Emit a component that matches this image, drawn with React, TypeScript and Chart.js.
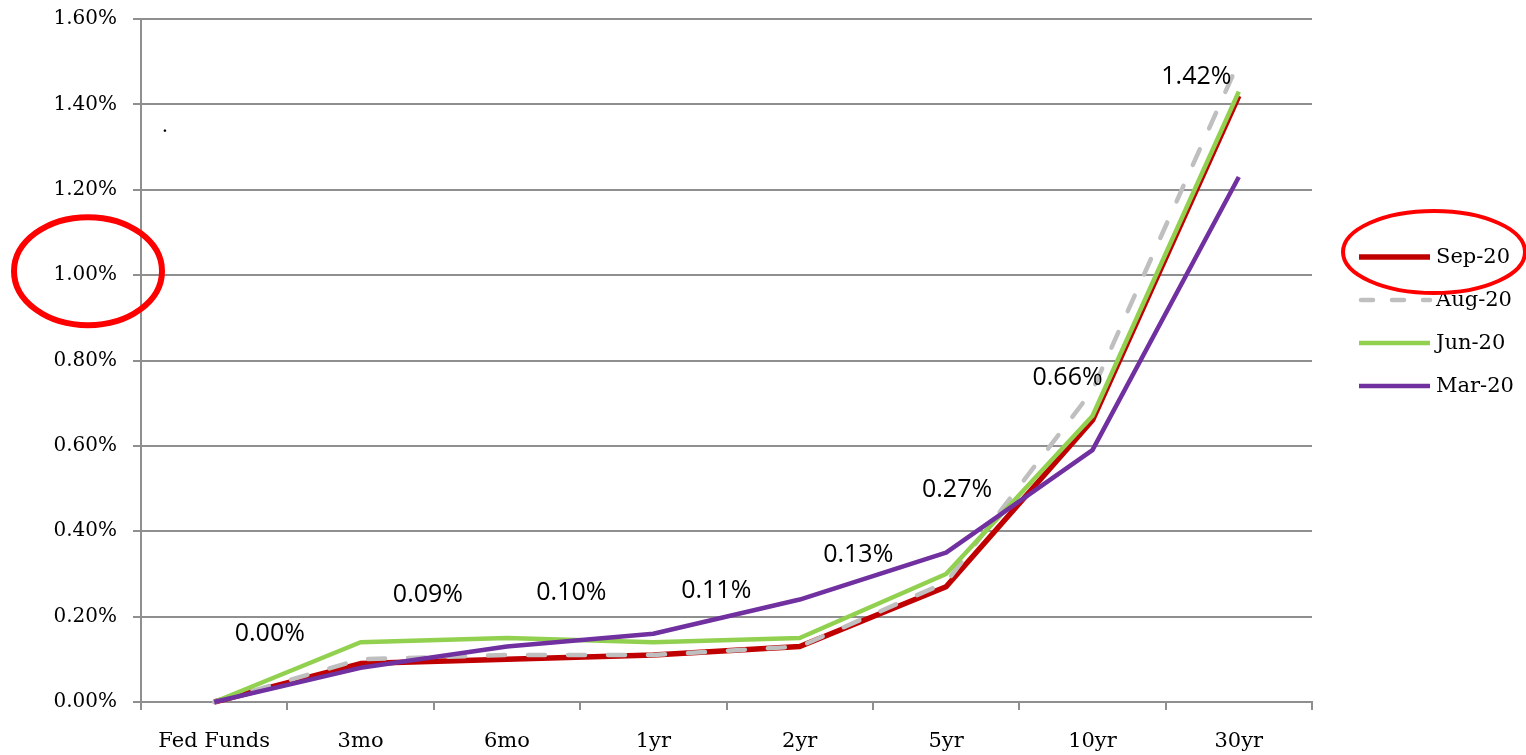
import React, { useEffect, useRef } from "react";
import { Chart, registerables } from "chart.js";

Chart.register(...registerables);

// ---- data ----
const categories = ["Fed Funds", "3mo", "6mo", "1yr", "2yr", "5yr", "10yr", "30yr"];
const seriesNames = ["Sep-20", "Aug-20", "Jun-20", "Mar-20"];
const sep20 = [0.0, 0.09, 0.1, 0.11, 0.13, 0.27, 0.66, 1.42];
const aug20 = [0.0, 0.1, 0.11, 0.11, 0.13, 0.28, 0.73, 1.5];
const jun20 = [0.0, 0.14, 0.15, 0.14, 0.15, 0.3, 0.67, 1.43];
const mar20 = [0.0, 0.08, 0.13, 0.16, 0.24, 0.35, 0.59, 1.23];
const yMin = 0;
const yMax = 1.6;
const yStep = 0.2;
// data-label offsets for the Sep-20 labels: [category fraction, percent]
const labelOffsets: [number, number][] = [
  [0.38, 0.16],
  [0.46, 0.16],
  [0.44, 0.155],
  [0.43, 0.15],
  [0.4, 0.215],
  [0.075, 0.228],
  [-0.17, 0.1],
  [-0.29, 0.045],
];

const COLORS = ["#C00000", "#BFBFBF", "#92D050", "#7030A0"];
const GRID = "#8f8f8f";
const SERIF = "'DejaVu Serif', 'Liberation Serif', serif";
const SANS = "'Open Sans', 'Liberation Sans', sans-serif";

const fmt = (v: number) => v.toFixed(2) + "%";

const decorPlugin = {
  id: "decor",
  afterDatasetsDraw(chart: any) {
    const ctx = chart.ctx;
    const xs = chart.scales.x;
    const ys = chart.scales.y;
    ctx.save();
    ctx.font = `25px ${SANS}`;
    ctx.fillStyle = "#000";
    ctx.textAlign = "center";
    ctx.textBaseline = "middle";
    sep20.forEach((v, i) => {
      const [dx, dy] = labelOffsets[i];
      const x = xs.getPixelForValue(i + dx);
      const y = ys.getPixelForValue(v + dy);
      ctx.fillText(fmt(v), x, y);
    });
    ctx.font = `20px ${SERIF}`;
    ctx.fillText(".", chart.chartArea.left + 24, ys.getPixelForValue(1.4) + 22);
    ctx.restore();
  },
  afterDraw(chart: any) {
    const ctx = chart.ctx;
    const ys = chart.scales.y;
    const datasets = chart.data.datasets;
    const lx0 = chart.chartArea.right + 47;
    const lx1 = lx0 + 71;
    const ly0 = 257;
    const lstep = 43;
    ctx.save();
    datasets.forEach((ds: any, i: number) => {
      const y = ly0 + lstep * i;
      ctx.beginPath();
      ctx.strokeStyle = ds.borderColor;
      ctx.lineWidth = ds.borderWidth;
      ctx.lineCap = ds.borderDash ? "round" : "butt";
      ctx.setLineDash(ds.borderDash ? [12, 19] : []);
      ctx.moveTo(lx0 + (ds.borderDash ? 2 : 0), y);
      ctx.lineTo(lx1, y);
      ctx.stroke();
      ctx.setLineDash([]);
      ctx.fillStyle = "#000";
      ctx.font = `21px ${SERIF}`;
      ctx.textAlign = "left";
      ctx.textBaseline = "middle";
      ctx.fillText(ds.label, lx1 + 6, y + 1);
    });
    ctx.strokeStyle = "#FF0000";
    ctx.lineWidth = 6;
    ctx.beginPath();
    ctx.ellipse(88, ys.getPixelForValue(1.0) - 4, 74, 54, 0, 0, Math.PI * 2);
    ctx.stroke();
    ctx.lineWidth = 4;
    ctx.beginPath();
    ctx.ellipse(lx0 + 75, ly0 - 5, 91, 41, 0, 0, Math.PI * 2);
    ctx.stroke();
    ctx.restore();
  },
};

export default function App() {
  const ref = useRef<HTMLCanvasElement | null>(null);
  useEffect(() => {
    if (!ref.current) return;
    const seriesData = [sep20, aug20, jun20, mar20];
    const chart = new Chart(ref.current, {
      type: "line",
      data: {
        labels: categories,
        datasets: seriesData.map((d, i) => ({
          label: seriesNames[i],
          data: d,
          borderColor: COLORS[i],
          backgroundColor: COLORS[i],
          borderWidth: i === 0 ? 5.5 : 4.5,
          borderDash: i === 1 ? [17, 23] : undefined,
          borderCapStyle: i === 1 ? "round" : "butt",
          borderJoinStyle: "round",
          pointRadius: 0,
          tension: 0,
          fill: false,
          clip: false,
          order: 3 - i,
        })) as any,
      },
      options: {
        responsive: false,
        animation: false,
        devicePixelRatio: 1,
        layout: { padding: { top: 19, right: 214, bottom: 0, left: 0 } },
        plugins: {
          legend: { display: false },
          tooltip: { enabled: false },
        },
        scales: {
          x: {
            type: "category",
            offset: true,
            grid: {
              offset: true,
              drawOnChartArea: false,
              drawTicks: true,
              tickLength: 8,
              color: GRID,
              lineWidth: 2,
            },
            border: { display: true, color: GRID, width: 2 },
            ticks: {
              color: "#000",
              font: { family: SERIF, size: 21 },
              padding: 19,
              maxRotation: 0,
              autoSkip: false,
            },
            afterFit(scale: any) {
              scale.height = 53;
              scale.paddingLeft = 0;
              scale.paddingRight = 0;
            },
          },
          y: {
            min: yMin,
            max: yMax,
            grid: {
              color: GRID,
              lineWidth: 2,
              tickLength: 8,
              drawTicks: true,
            },
            border: { display: true, color: GRID, width: 2 },
            ticks: {
              stepSize: yStep,
              color: "#000",
              font: { family: SERIF, size: 20 },
              padding: 16,
              callback: (v: any) => fmt(Number(v)),
            },
            afterFit(scale: any) {
              scale.width = 141;
              scale.paddingTop = 0;
              scale.paddingBottom = 0;
            },
          },
        },
      },
      plugins: [decorPlugin],
    });
    return () => chart.destroy();
  }, []);
  return (
    <div style={{ position: "fixed", left: 0, top: 0, width: 1526, height: 755, background: "#fff" }}>
      <canvas ref={ref} width={1526} height={755} style={{ display: "block" }} />
    </div>
  );
}
